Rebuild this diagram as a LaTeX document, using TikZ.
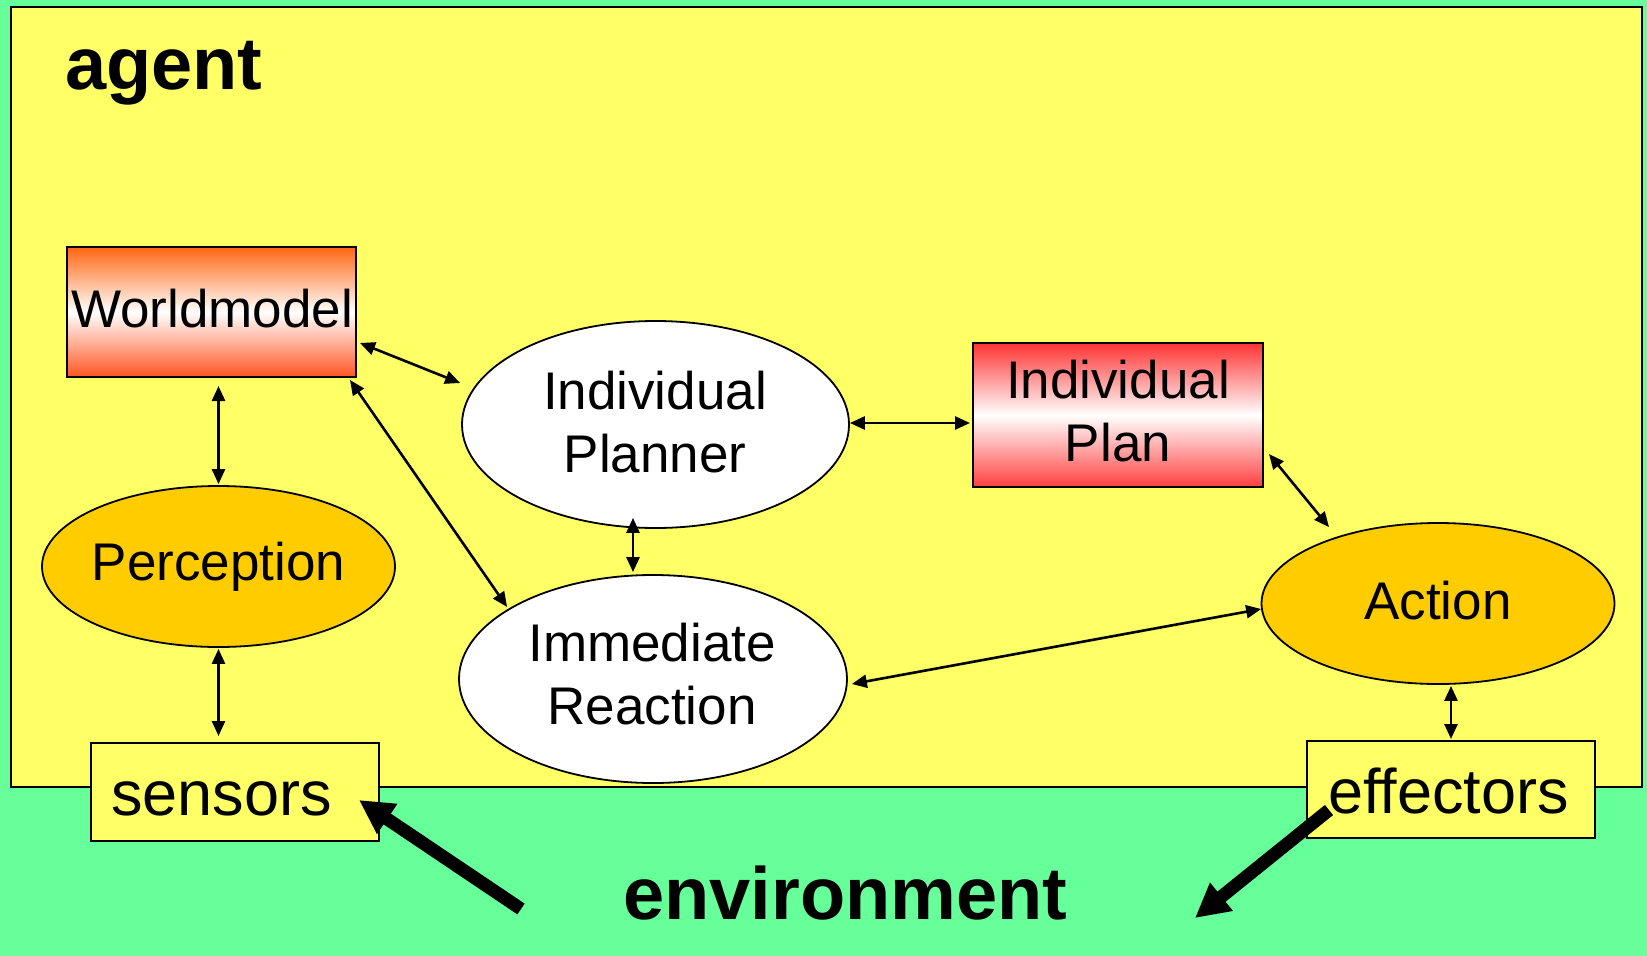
\documentclass[tikz,border=0pt]{standalone}
\usepackage{fontspec}
\setmainfont{Liberation Sans}
\usetikzlibrary{shapes.geometric,arrows.meta,calc}
\definecolor{envgreen}{HTML}{66FF99}
\definecolor{agentyellow}{HTML}{FFFF66}
\definecolor{procorange}{HTML}{FFCC00}
\definecolor{wmtop}{HTML}{FF6611}
\definecolor{wmbot}{HTML}{FF5522}
\definecolor{plantop}{HTML}{FF3333}
\definecolor{planbot}{HTML}{FF4040}
\begin{document}
\begin{tikzpicture}[x=1pt,y=-1pt,
  big/.style={font=\fontsize{53}{63}\selectfont},
  io/.style={font=\fontsize{63}{70}\selectfont},
  title/.style={font=\fontsize{74}{80}\selectfont\bfseries},
  oval/.style={ellipse, draw=black, line width=1.8pt, inner sep=0pt},
  store/.style={rectangle, draw=black, line width=2pt, inner sep=0pt},
  port/.style={rectangle, draw=black, line width=2pt, fill=agentyellow, inner sep=0pt},
  link/.style={{Triangle[length=15pt,width=13pt]}-{Triangle[length=15pt,width=13pt]}, line width=2.6pt},
  push/.style={-{Triangle[length=34pt,width=34pt]}, line width=13pt},
  txt/.style={big, inner sep=0pt, align=center}
]
\useasboundingbox (0,0) rectangle (1647,956);
% environment and agent areas
\fill[envgreen] (0,0) rectangle (1647,956);
\draw[fill=agentyellow, line width=2.5pt] (11,7) rectangle (1642,787);
\node[title, anchor=base west, inner sep=0pt] (agentlbl) at (65,89) {agent};
\node[title, anchor=base west, inner sep=0pt] (envlbl) at (623,919) {environment};

% knowledge stores
\node[store, minimum width=289pt, minimum height=130pt,
      top color=wmtop, bottom color=wmbot, middle color=white] (wm) at (211.5,312) {};
\node[txt] (wm-t) at (212,309) {Worldmodel};
\node[store, minimum width=290pt, minimum height=144pt,
      top color=plantop, bottom color=planbot, middle color=white] (plan) at (1118,415) {};
\node[txt] (plan-t) at (1118,411) {Individual\\Plan};

% processes
\node[oval, fill=white, minimum width=387pt, minimum height=207pt] (ip) at (655.5,424.5) {};
\node[txt] (ip-t) at (655,422) {Individual\\Planner};
\node[oval, fill=white, minimum width=388pt, minimum height=208pt] (ir) at (653,679) {};
\node[txt] (ir-t) at (652,674) {Immediate\\Reaction};
\node[oval, fill=procorange, minimum width=353pt, minimum height=161pt] (per) at (218.5,566.5) {};
\node[txt] (per-t) at (218.5,567) {Perception};
\node[oval, fill=procorange, minimum width=353pt, minimum height=161pt] (act) at (1438,603.5) {};
\node[txt] (act-t) at (1438,601) {Action};

% interface to the environment
\node[port, minimum width=288pt, minimum height=98pt] (sens) at (235,792) {};
\node[io, anchor=base west, inner sep=0pt] (sens-t) at (111,815) {sensors};
\node[port, minimum width=288pt, minimum height=97pt] (eff) at (1451,789.5) {};
\node[io, anchor=base west, inner sep=0pt] (eff-t) at (1328,813) {effectors};

% internal connections
\draw[link] ($(wm.east)+(3,31)$) -- ($(ip.west)+(-1,-41.5)$);
\draw[link] ($(wm.south east)+(-7,2)$) -- ($(ir.west)+(49,-72)$);
\draw[link] ($(wm.south)+(7,8)$) -- ($(per.north)+(0,-1)$);
\draw[link] ($(per.south)+(0,1)$) -- ($(sens.north)+(-16.5,-6)$);
\draw[link] ($(ip.south)+(-22.5,-11)$) -- ($(ir.north)+(-20,-2)$);
\draw[link] ($(ip.east)+(0,-1.5)$) -- ($(plan.west)+(-2,8)$);
\draw[link] ($(plan.east)+(5,39)$) -- ($(act.north)+(-109,5)$);
\draw[link] ($(ir.east)+(4,5)$) -- ($(act.west)+(0.5,5.5)$);
\draw[link] ($(act.south)+(13,1)$) -- ($(eff.north)+(0,-1)$);

% exchange with the environment
\coordinate (envL) at (521,909);
\coordinate (envR) at (1195,918);
\draw[push] (envL) -- ($(sens.east)+(-21,8)$);
\draw[push] ($(eff.west)+(23,20.5)$) -- (envR);
\end{tikzpicture}
\end{document}
